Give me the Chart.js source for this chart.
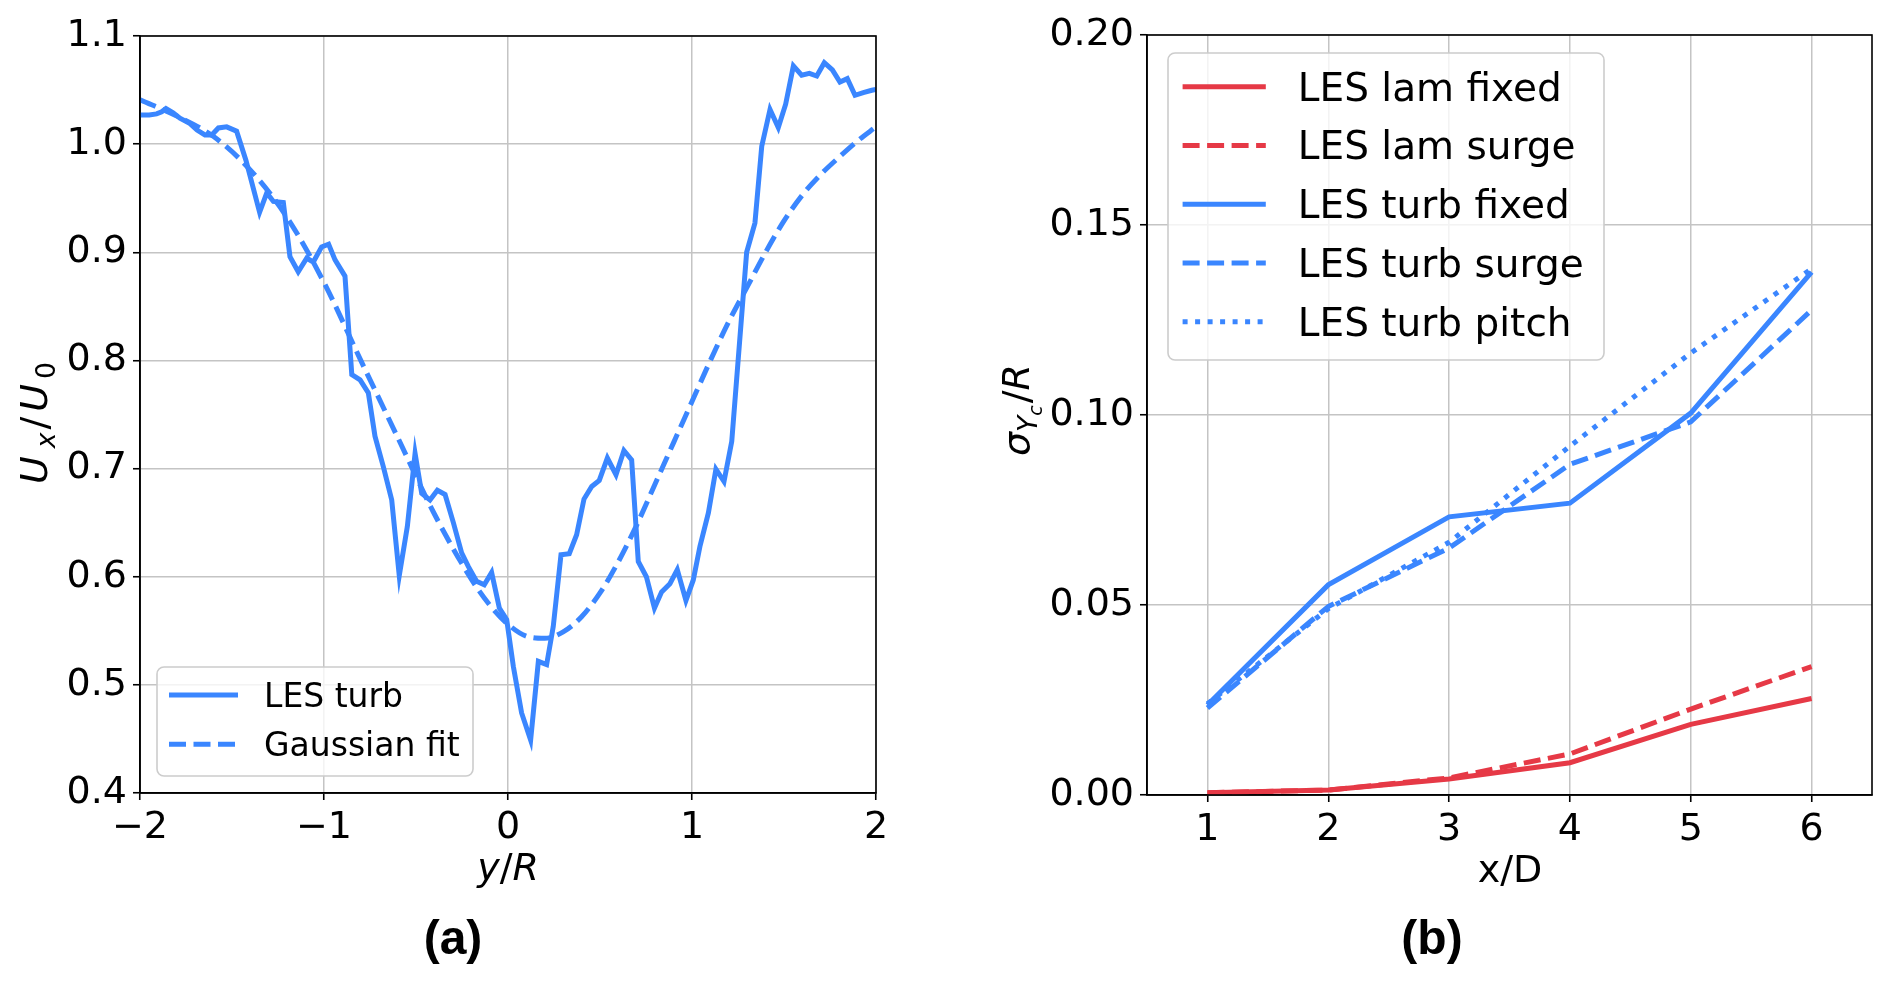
<!DOCTYPE html>
<html><head><meta charset="utf-8">
<script src="https://cdn.jsdelivr.net/npm/chart.js@4.4.0/dist/chart.umd.min.js"></script>
<style>
html,body{margin:0;padding:0;background:#fff;width:1892px;height:986px;overflow:hidden}
#ca{position:absolute;left:0;top:0}
#cb{position:absolute;left:946px;top:0}
</style></head><body>
<canvas id="ca" width="946" height="986"></canvas>
<canvas id="cb" width="946" height="986"></canvas>
<script>
// ---------- Panel (a) data ----------
const yR = [-2.000,-1.950,-1.910,-1.882,-1.859,-1.820,-1.783,-1.728,-1.690,-1.647,-1.610,-1.574,-1.529,-1.475,-1.424,-1.350,-1.311,-1.275,-1.221,-1.185,-1.140,-1.094,-1.058,-1.013,-0.975,-0.940,-0.886,-0.849,-0.804,-0.759,-0.723,-0.678,-0.632,-0.591,-0.547,-0.505,-0.469,-0.424,-0.384,-0.342,-0.297,-0.252,-0.216,-0.170,-0.129,-0.089,-0.047,-0.007,0.029,0.074,0.123,0.165,0.210,0.246,0.288,0.333,0.373,0.413,0.455,0.496,0.540,0.587,0.630,0.672,0.708,0.752,0.796,0.835,0.880,0.920,0.967,1.007,1.043,1.089,1.130,1.174,1.216,1.297,1.342,1.379,1.424,1.469,1.509,1.551,1.596,1.638,1.678,1.719,1.763,1.804,1.844,1.886,1.931,1.977,2.000];
const lesTurb = [1.027,1.027,1.028,1.030,1.033,1.029,1.024,1.019,1.013,1.0085,1.0085,1.015,1.016,1.012,0.985,0.937,0.955,0.947,0.946,0.896,0.882,0.8945,0.891,0.905,0.9075,0.893,0.878,0.787,0.782,0.770,0.730,0.702,0.671,0.601,0.6465,0.714,0.677,0.671,0.680,0.676,0.650,0.622,0.6095,0.5957,0.5926,0.604,0.571,0.5603,0.517,0.474,0.449,0.5217,0.5187,0.554,0.6203,0.6213,0.6388,0.6718,0.6835,0.689,0.7097,0.6943,0.7167,0.708,0.6141,0.600,0.571,0.586,0.5935,0.6065,0.578,0.597,0.628,0.659,0.6995,0.688,0.725,0.900,0.927,0.998,1.032,1.0153,1.0369,1.0723,1.0637,1.0655,1.063,1.0753,1.0686,1.0575,1.0606,1.0452,1.0476,1.0498,1.0507];
const gaussY = [-2.0,-1.8,-1.6,-1.4,-1.2,-1.0,-0.8,-0.6,-0.4,-0.2,-0.1,0.0,0.1,0.2,0.3,0.4,0.5,0.6,0.7,0.8,0.9,1.0,1.1,1.2,1.3,1.4,1.5,1.6,1.7,1.8,1.9,2.0];
const gaussFit = [1.041,1.026,1.007,0.976,0.932,0.872,0.800,0.729,0.658,0.598,0.574,0.556,0.545,0.543,0.549,0.563,0.585,0.614,0.648,0.686,0.724,0.762,0.800,0.836,0.868,0.900,0.929,0.953,0.972,0.988,1.003,1.016];
const xTicksA = [-2,-1,0,1,2];
const yTicksA = [0.4,0.5,0.6,0.7,0.8,0.9,1.0,1.1];

// ---------- Panel (b) data ----------
const xD = [1,2,3,4,5,6];
const lamFixed  = [0.0006,0.0013,0.0042,0.0085,0.0186,0.0254];
const lamSurge  = [0.0006,0.0013,0.0045,0.0108,0.0226,0.0338];
const turbFixed = [0.0237,0.0553,0.0732,0.0768,0.1005,0.1376];
const turbSurge = [0.0229,0.0496,0.0650,0.0870,0.0982,0.1276];
const turbPitch = [0.0240,0.0490,0.0665,0.0918,0.1163,0.1385];
const xTicksB = [1,2,3,4,5,6];
const yTicksB = [0.00,0.05,0.10,0.15,0.20];

// ---------- styling ----------
const BLUE = '#3A86FF', RED = '#E63946';
const FONT = 'DejaVu Sans';
const LW = 5, DASH = [17, 7.5], DOT = [5, 7.5];
const GRID = '#c4c4c4';
Chart.defaults.font.family = FONT;
Chart.defaults.color = '#000';

function pts(xs, ys){ return xs.map((x,i)=>({x:x, y:ys[i]})); }
function fmtMinus(v){ return v < 0 ? '\u2212' + Math.abs(v) : String(v); }

function drawRich(ctx, parts, cx, cy, base, rot, off){
  let w = 0;
  const ms = parts.map(p => { ctx.font = (p.it?'italic ':'') + (base*p.s) + 'px "' + FONT + '"'; const m = ctx.measureText(p.t).width; w += m + (p.g || 0); return m; });
  ctx.save();
  ctx.translate(cx, cy);
  if (rot) ctx.rotate(-Math.PI/2);
  ctx.fillStyle = '#000';
  ctx.textBaseline = 'alphabetic';
  let x = -w/2;
  parts.forEach((p,i) => {
    x += (p.g || 0);
    ctx.font = (p.it?'italic ':'') + (base*p.s) + 'px "' + FONT + '"';
    ctx.fillText(p.t, x, off + base*p.dy);
    x += ms[i];
  });
  ctx.restore();
}

const deco = {
  id: 'deco',
  afterDatasetsDraw(chart, args, o){
    const ctx = chart.ctx, a = chart.chartArea;
    ctx.save();
    ctx.strokeStyle = '#000'; ctx.lineWidth = 1.6; ctx.setLineDash([]);
    ctx.strokeRect(a.left, a.top, a.right - a.left, a.bottom - a.top);
    // legend
    const L = o.legend;
    const r = 7;
    ctx.beginPath();
    ctx.moveTo(L.x + r, L.y);
    ctx.arcTo(L.x + L.w, L.y, L.x + L.w, L.y + L.h, r);
    ctx.arcTo(L.x + L.w, L.y + L.h, L.x, L.y + L.h, r);
    ctx.arcTo(L.x, L.y + L.h, L.x, L.y, r);
    ctx.arcTo(L.x, L.y, L.x + L.w, L.y, r);
    ctx.closePath();
    ctx.fillStyle = 'rgba(255,255,255,0.8)'; ctx.fill();
    ctx.strokeStyle = '#cccccc'; ctx.lineWidth = 1.6; ctx.stroke();
    chart.data.datasets.forEach((ds, i) => {
      const yy = L.row0 + i * L.step;
      ctx.beginPath();
      ctx.setLineDash(ds.borderDash || []);
      ctx.lineCap = 'butt';
      ctx.strokeStyle = ds.borderColor; ctx.lineWidth = ds.borderWidth;
      ctx.moveTo(L.s0, yy); ctx.lineTo(L.s1, yy); ctx.stroke();
      ctx.setLineDash([]);
      ctx.fillStyle = '#000';
      ctx.font = L.size + 'px "' + FONT + '"';
      ctx.textBaseline = 'alphabetic';
      ctx.fillText(ds.label, L.tx, yy + 0.36 * L.size);
    });
    ctx.restore();
  },
  afterDraw(chart, args, o){
    const ctx = chart.ctx;
    drawRich(ctx, o.xTitle.parts, o.xTitle.x, o.xTitle.y, 38, false, 0);
    drawRich(ctx, o.yTitle.parts, o.yTitle.x, o.yTitle.y, 38, true, o.yTitle.off);
    ctx.save();
    ctx.fillStyle = '#000';
    ctx.font = 'bold 48px "Liberation Sans"';
    ctx.textAlign = 'center'; ctx.textBaseline = 'alphabetic';
    ctx.fillText(o.tag.t, o.tag.x, o.tag.y);
    ctx.restore();
  }
};

function axisCommon(ticksArr, fmt, isX, fixedSize){
  return {
    type: 'linear',
    afterBuildTicks: s => { s.ticks = ticksArr.map(v => ({value: v})); },
    ticks: { callback: fmt, font: {size: 38, family: FONT}, color: '#000', padding: isX ? 5 : 6, maxRotation: 0, autoSkip: false },
    grid: { color: GRID, lineWidth: 1.5, tickColor: '#000', tickLength: 7, tickWidth: 1.6 },
    border: { color: '#000', width: 1.6 },
    afterFit: s => { if (isX) s.height = fixedSize; else s.width = fixedSize; }
  };
}

// ---------- Chart (a) ----------
new Chart(document.getElementById('ca'), {
  type: 'line',
  data: { datasets: [
    { label: 'LES turb', data: pts(yR, lesTurb), borderColor: BLUE, borderWidth: LW, pointRadius: 0, tension: 0, fill: false, order: 2 },
    { label: 'Gaussian fit', data: pts(gaussY, gaussFit), borderColor: BLUE, borderWidth: LW, borderDash: DASH, pointRadius: 0, cubicInterpolationMode: 'monotone', fill: false, order: 1 }
  ]},
  options: {
    responsive: false, animation: false, devicePixelRatio: 1,
    layout: { padding: { left: 0, right: 70, top: 36, bottom: 93 } },
    plugins: {
      legend: { display: false }, tooltip: { enabled: false },
      deco: {
        legend: { x: 157, y: 667, w: 316, h: 109, row0: 695, step: 49.3, s0: 169, s1: 238, tx: 264, size: 33 },
        xTitle: { x: 508, y: 880, parts: [{t:'y', it:true, s:1, dy:0}, {t:'/', it:false, s:1, dy:0}, {t:'R', it:true, s:1, dy:0}] },
        yTitle: { x: 37, y: 423, off: 10, parts: [{t:'U', it:true, s:1, dy:0}, {t:'x', it:true, s:0.7, dy:0.2, g:8}, {t:'/', it:false, s:1, dy:0, g:3}, {t:'U', it:true, s:1, dy:0, g:5}, {t:'0', it:false, s:0.7, dy:0.2, g:5}] },
        tag: { t: '(a)', x: 453, y: 954 }
      }
    },
    scales: {
      x: Object.assign(axisCommon(xTicksA, v => fmtMinus(v), true, 100), { min: -2, max: 2 }),
      y: Object.assign(axisCommon(yTicksA, v => Number(v).toFixed(1), false, 140), { min: 0.4, max: 1.1 })
    }
  },
  plugins: [deco]
});

// ---------- Chart (b) ----------
new Chart(document.getElementById('cb'), {
  type: 'line',
  data: { datasets: [
    { label: 'LES lam fixed', data: pts(xD, lamFixed), borderColor: RED, borderWidth: LW, pointRadius: 0, tension: 0, fill: false },
    { label: 'LES lam surge', data: pts(xD, lamSurge), borderColor: RED, borderWidth: LW, borderDash: DASH, pointRadius: 0, tension: 0, fill: false },
    { label: 'LES turb fixed', data: pts(xD, turbFixed), borderColor: BLUE, borderWidth: LW, pointRadius: 0, tension: 0, fill: false },
    { label: 'LES turb surge', data: pts(xD, turbSurge), borderColor: BLUE, borderWidth: LW, borderDash: DASH, pointRadius: 0, tension: 0, fill: false },
    { label: 'LES turb pitch', data: pts(xD, turbPitch), borderColor: BLUE, borderWidth: LW, borderDash: DOT, pointRadius: 0, tension: 0, fill: false }
  ]},
  options: {
    responsive: false, animation: false, devicePixelRatio: 1,
    layout: { padding: { left: 0, right: 20, top: 35, bottom: 91 } },
    plugins: {
      legend: { display: false }, tooltip: { enabled: false },
      deco: {
        legend: { x: 222, y: 53, w: 436, h: 307, row0: 86.7, step: 58.75, s0: 236.6, s1: 319.8, tx: 351.8, size: 39 },
        xTitle: { x: 564, y: 882, parts: [{t:'x/D', it:false, s:1, dy:0}] },
        yTitle: { x: 75, y: 410, off: 8, parts: [{t:'\u03C3', it:true, s:1, dy:0}, {t:'Y', it:true, s:0.7, dy:0.2}, {t:'c', it:true, s:0.5, dy:0.33}, {t:'/', it:false, s:1, dy:0, g:2}, {t:'R', it:true, s:1, dy:0}] },
        tag: { t: '(b)', x: 486, y: 954 }
      }
    },
    scales: {
      x: Object.assign(axisCommon(xTicksB, v => String(v), true, 100), { min: 0.5, max: 6.5 }),
      y: Object.assign(axisCommon(yTicksB, v => Number(v).toFixed(2), false, 201), { min: 0, max: 0.2 })
    }
  },
  plugins: [deco]
});
</script>
</body></html>
